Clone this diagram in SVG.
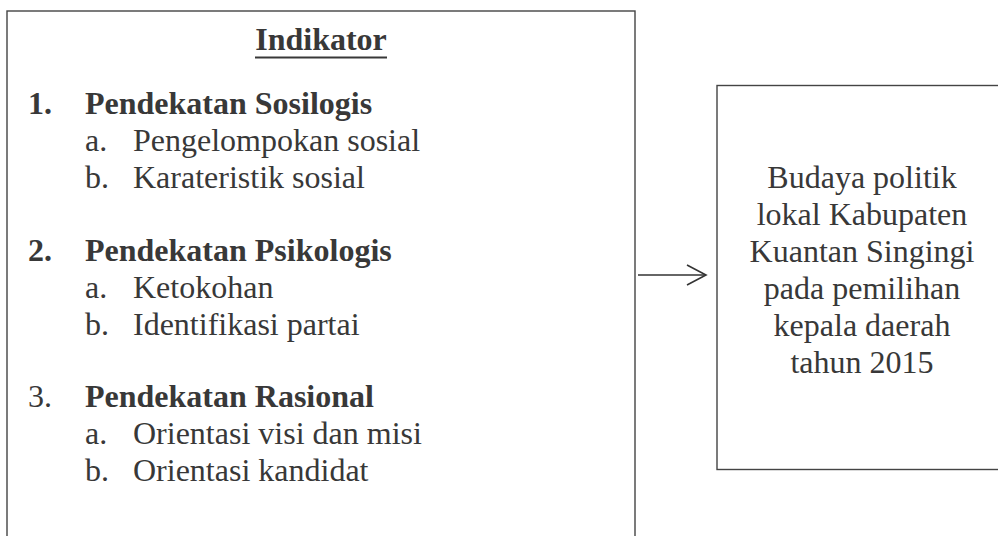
<svg xmlns="http://www.w3.org/2000/svg" width="998" height="536" viewBox="0 0 998 536">
  <style>
    .t { font-family: "Liberation Serif", "Times New Roman", serif; font-size: 32px; fill: #383838; }
    .b { font-weight: bold; }
    .box { fill: none; stroke: #444; stroke-width: 1.4; }
    .conn { fill: none; stroke: #333; stroke-width: 1.6; }
  </style>
  <rect x="0" y="0" width="998" height="536" fill="#ffffff"/>
  <g id="indikator">
    <rect class="box" x="7" y="11" width="628" height="540"/>
    <text class="t b" x="321" y="50" text-anchor="middle">Indikator</text>
    <line x1="255" y1="57.5" x2="387" y2="57.5" stroke="#383838" stroke-width="2"/>
    <text class="t b" x="28" y="114">1.</text>
    <text class="t b" x="85" y="114">Pendekatan Sosilogis</text>
    <text class="t" x="85" y="151">a.</text>
    <text class="t" x="133" y="151">Pengelompokan sosial</text>
    <text class="t" x="85" y="188">b.</text>
    <text class="t" x="133" y="188">Karateristik sosial</text>
    <text class="t b" x="28" y="261">2.</text>
    <text class="t b" x="85" y="261">Pendekatan Psikologis</text>
    <text class="t" x="85" y="298">a.</text>
    <text class="t" x="133" y="298">Ketokohan</text>
    <text class="t" x="85" y="335">b.</text>
    <text class="t" x="133" y="335">Identifikasi partai</text>
    <text class="t" x="28" y="407">3.</text>
    <text class="t b" x="85" y="407">Pendekatan Rasional</text>
    <text class="t" x="85" y="444">a.</text>
    <text class="t" x="133" y="444">Orientasi visi dan misi</text>
    <text class="t" x="85" y="481">b.</text>
    <text class="t" x="133" y="481">Orientasi kandidat</text>
  </g>
  <g id="budaya">
    <rect class="box" x="717" y="85.5" width="300" height="384"/>
    <text class="t" x="862" y="188" text-anchor="middle">Budaya politik</text>
    <text class="t" x="862" y="225" text-anchor="middle">lokal Kabupaten</text>
    <text class="t" x="862" y="262" text-anchor="middle">Kuantan Singingi</text>
    <text class="t" x="862" y="299" text-anchor="middle">pada pemilihan</text>
    <text class="t" x="862" y="336" text-anchor="middle">kepala daerah</text>
    <text class="t" x="862" y="373" text-anchor="middle">tahun 2015</text>
  </g>
  <g id="connectors">
    <line class="conn" x1="638" y1="275" x2="705" y2="275"/>
    <polyline class="conn" points="687,265 706,275 687,285"/>
  </g>
</svg>
